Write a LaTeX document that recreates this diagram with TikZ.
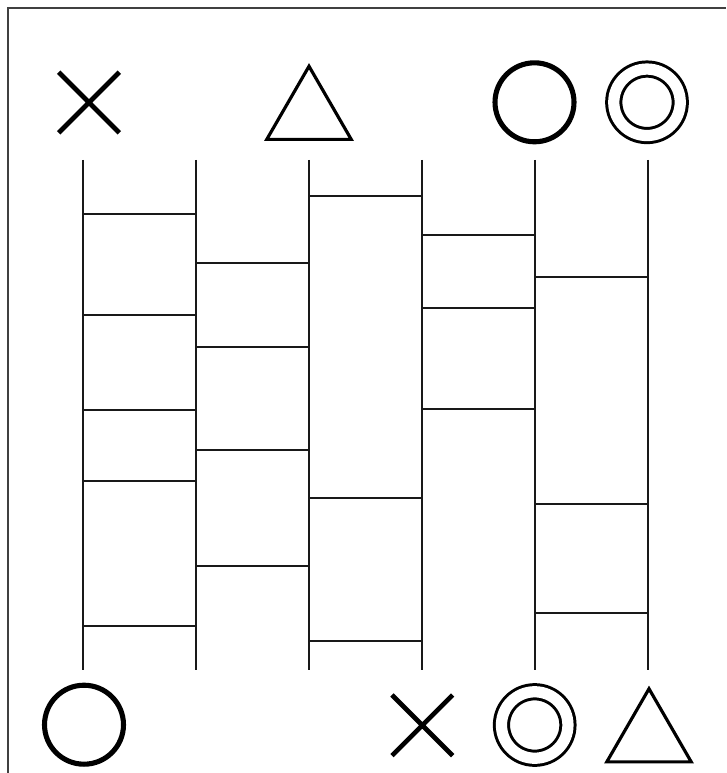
\documentclass[tikz,border=0pt]{standalone}
\usetikzlibrary{shapes.geometric,shapes.misc}

\begin{document}
\begin{tikzpicture}[
		x=0.02cm, y=-0.02cm,
		frame/.style={line width=0.7pt, black!75},
		rail/.style={line width=1.15pt, black!90},
		rung/.style={line width=1.15pt, black!90},
		crossmark/.style={cross out, draw, line width=2.7pt, minimum size=1.12cm, inner sep=0pt},
		trimark/.style={regular polygon, regular polygon sides=3, draw, line width=1.8pt, minimum size=1.95cm, inner sep=0pt},
		ringmark/.style={circle, draw, line width=2.9pt, minimum size=1.58cm, inner sep=0pt},
		dblmark/.style={circle, draw, double, line width=1.7pt, double distance=6.4pt, minimum size=1.33cm, inner sep=0pt}
		]
		
		\useasboundingbox (0,0) rectangle (726,773);
		
		% --------------------------------------------------
		% Frame (top and left edge)
		% --------------------------------------------------
		\draw[frame] (8,773) -- (8,8) -- (726,8);
		
		% --------------------------------------------------
		% Symbols on top
		% --------------------------------------------------
		\node[crossmark] (xTop) at (89,102.5) {};
		\node[trimark] (triTop) at (309,115) {};
		\node[ringmark] (ringTop) at (534.5,102.3) {};
		\node[dblmark] (dblTop) at (647,102.3) {};
		
		% --------------------------------------------------
		% Rails of the ladder
		% --------------------------------------------------
		\foreach \i in {1,...,6} {
			\coordinate (t\i) at ({83+113*(\i-1)},160);
			\coordinate (b\i) at ({83+113*(\i-1)},670);
			\draw[rail] (t\i) -- (b\i);
		}
		
		% Rungs between rail g and rail g+1
		\foreach \g/\ys in {1/{214,315,410,481,626},
			2/{263,347,450,566},
			3/{196,498,641},
			4/{235,308,409},
			5/{277,504,613}} {
			\pgfmathtruncatemacro\n{\g+1}
			\foreach \y in \ys {
				\draw[rung] (t\g |- 0,\y) -- (t\n |- 0,\y);
			}
		}
		
		% --------------------------------------------------
		% Symbols at the bottom
		% --------------------------------------------------
		\node[ringmark] (ringBot) at (84,724.7) {};
		\node[crossmark] (xBot) at (422.3,725.3) {};
		\node[dblmark] (dblBot) at (534.7,725) {};
		\node[trimark] (triBot) at (649,737.5) {};
		
	\end{tikzpicture}
\end{document}
